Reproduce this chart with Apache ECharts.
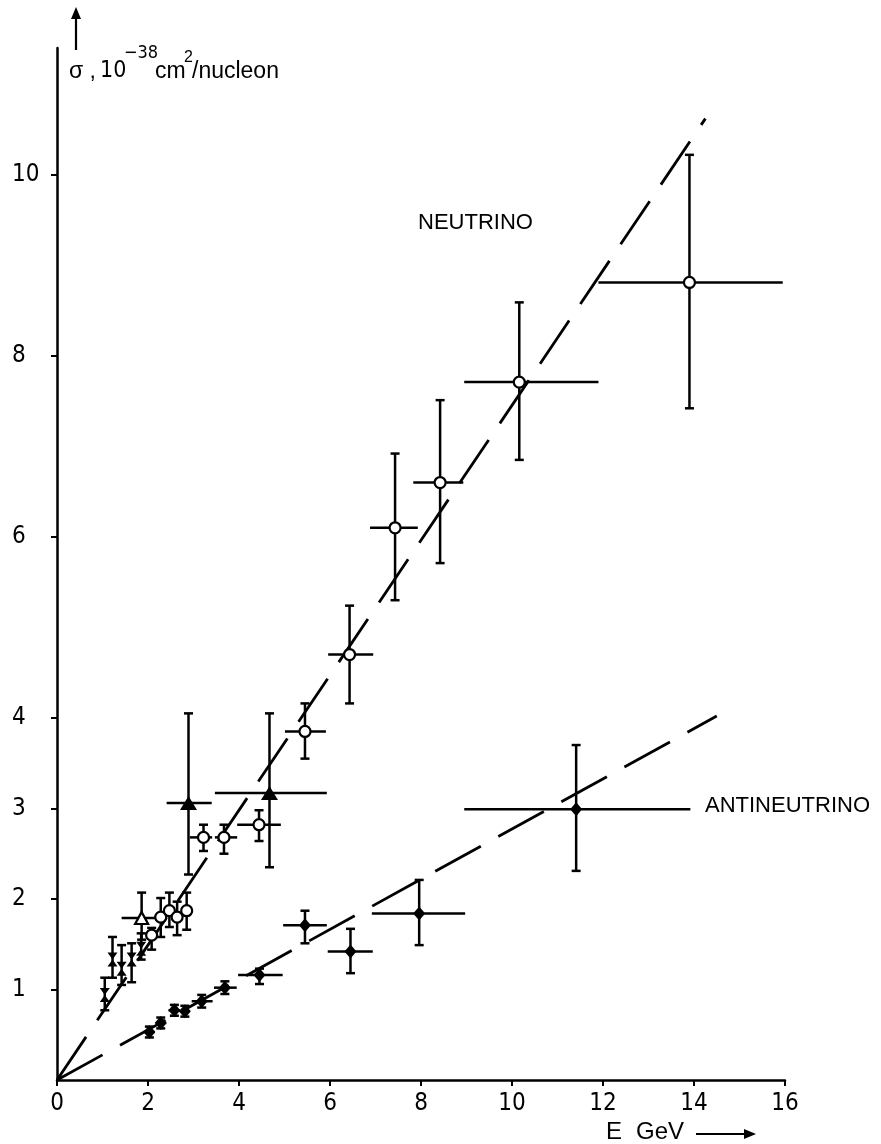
<!DOCTYPE html>
<html>
<head>
<meta charset="utf-8">
<script src="https://cdn.jsdelivr.net/npm/echarts@6/dist/echarts.min.js"></script>
<style>
  html, body { margin: 0; padding: 0; background: #fff; }
  #chart { width: 881px; height: 1144px; }
</style>
</head>
<body>
<div id="chart"></div>
<script>
// Total cross-section per nucleon vs. beam energy, neutrino and antineutrino.
// E in GeV, sigma in 1e-38 cm^2/nucleon.

const xTicks = [0, 2, 4, 6, 8, 10, 12, 14, 16];
const yTicks = [1, 2, 3, 4, 6, 8, 10];

// Neutrino, open circles
const nuE      = [2.08, 2.28, 2.47, 2.64, 2.85, 3.22, 3.67, 4.44, 5.45, 6.43, 7.43, 8.42, 10.16, 13.9];
const nuSigma  = [1.60, 1.80, 1.87, 1.80, 1.87, 2.68, 2.68, 2.82, 3.85, 4.70, 6.10, 6.60, 7.71, 8.81];
const nuEmin   = [null, null, null, null, null, 2.92, 3.47, 3.96, 5.01, 5.96, 6.88, 7.83, 8.95, 11.9];
const nuEmax   = [null, null, null, null, null, 3.41, 3.96, 4.92, 5.91, 6.95, 7.93, 8.93, 11.9, 15.95];
const nuSigMin = [1.44, 1.58, 1.69, 1.60, 1.66, 2.53, 2.50, 2.64, 3.55, 4.16, 5.30, 5.71, 6.85, 7.42];
const nuSigMax = [1.68, 2.01, 2.07, 1.97, 2.07, 2.82, 2.82, 2.98, 4.16, 5.24, 6.92, 7.51, 8.59, 10.22];

// Neutrino, filled triangles
const triE      = [2.89, 4.67];
const triSigma  = [3.06, 3.17];
const triEmin   = [2.41, 3.47];
const triEmax   = [3.40, 5.93];
const triSigMin = [2.27, 2.35];
const triSigMax = [4.05, 4.05];

// Neutrino, open triangle
const otriE      = [1.86];
const otriSigma  = [1.79];
const otriEmin   = [1.42];
const otriEmax   = [2.30];
const otriSigMin = [1.55];
const otriSigMax = [2.07];

// Neutrino, low-energy crosses
const crE      = [1.05, 1.22, 1.42, 1.64, 1.85];
const crSigma  = [0.94, 1.33, 1.23, 1.33, 1.45];
const crSigMin = [0.77, 1.13, 1.05, 1.08, 1.33];
const crSigMax = [1.13, 1.58, 1.49, 1.51, 1.62];

// Antineutrino, filled points
const anuE      = [2.03, 2.28, 2.58, 2.81, 3.18, 3.69, 4.45, 5.45, 6.45, 7.96, 11.41];
const anuSigma  = [0.53, 0.63, 0.77, 0.76, 0.87, 1.02, 1.16, 1.71, 1.42, 1.84, 2.99];
const anuEmin   = [1.90, 2.17, 2.45, 2.70, 2.96, 3.45, 3.98, 4.97, 5.95, 6.92, 8.95];
const anuEmax   = [2.15, 2.40, 2.70, 2.92, 3.42, 3.95, 4.96, 5.93, 6.94, 8.97, 13.92];
const anuSigMin = [0.47, 0.57, 0.71, 0.70, 0.80, 0.95, 1.06, 1.51, 1.18, 1.49, 2.31];
const anuSigMax = [0.59, 0.69, 0.83, 0.82, 0.94, 1.09, 1.23, 1.87, 1.67, 2.21, 3.70];

// Straight-line fits through the origin
const nuFit  = [[0, 0], [14.25, 10.62]];
const anuFit = [[0, 0], [14.5, 4.02]];

const NARROW = '"Liberation Sans Narrow","DejaVu Sans Condensed","Liberation Sans",sans-serif';
const SANS = '"Liberation Sans","Arimo","DejaVu Sans",sans-serif';
const INK = '#000';

function pairs(xs, ys) { return xs.map((x, i) => [x, ys[i]]); }

// Error bars: horizontal bin width (no caps) and vertical error with caps.
function errorBars(name, E, S, Emin, Emax, Smin, Smax) {
  return {
    name: name + ' errors',
    type: 'custom',
    silent: true,
    clip: false,
    z: 2,
    data: pairs(E, S),
    encode: { x: 0, y: 1 },
    renderItem(params, api) {
      const i = params.dataIndex;
      const s = S[i];
      const e = E[i];
      const style = { stroke: INK, lineWidth: 2.5, fill: null };
      const kids = [];
      if (Emin && Emin[i] != null) {
        const a = api.coord([Emin[i], s]);
        const b = api.coord([Emax[i], s]);
        kids.push({ type: 'line', shape: { x1: a[0], y1: a[1], x2: b[0], y2: b[1] }, style });
      }
      if (Smin && Smin[i] != null) {
        const lo = api.coord([e, Smin[i]]);
        const hi = api.coord([e, Smax[i]]);
        kids.push({ type: 'line', shape: { x1: lo[0], y1: lo[1], x2: hi[0], y2: hi[1] }, style });
        const cap = 4.5;
        kids.push({ type: 'line', shape: { x1: lo[0] - cap, y1: lo[1], x2: lo[0] + cap, y2: lo[1] }, style });
        kids.push({ type: 'line', shape: { x1: hi[0] - cap, y1: hi[1], x2: hi[0] + cap, y2: hi[1] }, style });
      }
      return { type: 'group', children: kids };
    }
  };
}

function points(name, E, S, symbol, size, fill) {
  return {
    name,
    type: 'scatter',
    z: 4,
    clip: false,
    silent: true,
    symbol,
    symbolSize: size,
    data: pairs(E, S),
    itemStyle: { color: fill, borderColor: INK, borderWidth: fill === '#fff' ? 2.2 : 0, opacity: 1 }
  };
}

function fitLine(name, data) {
  return {
    name,
    type: 'line',
    z: 1,
    silent: true,
    clip: false,
    symbol: 'none',
    data,
    lineStyle: { color: INK, width: 2.8, type: [52, 20], cap: 'butt' }
  };
}

const hourglass = 'path://M0,0 L10,0 L5,7 Z M5,7 L10,14 L0,14 Z';

function label(text, left, top, size, family) {
  return { type: 'text', left, top, z: 10, silent: true,
           style: { text, fill: INK, fontFamily: family || SANS, fontSize: size } };
}

const chart = echarts.init(document.getElementById('chart'), null, { renderer: 'canvas' });

chart.setOption({
  animation: false,
  backgroundColor: '#fff',
  grid: { left: 57, right: 96, top: 48, bottom: 64, containLabel: false },
  xAxis: {
    type: 'value',
    min: 0, max: 16, interval: 2,
    axisLine: { show: true, onZero: false, lineStyle: { color: INK, width: 2.5 } },
    axisTick: { show: true, inside: false, length: 6, lineStyle: { color: INK, width: 2 }, customValues: xTicks },
    axisLabel: { show: true, margin: 12, color: INK, fontFamily: NARROW, fontSize: 24, customValues: xTicks },
    splitLine: { show: false }
  },
  yAxis: {
    type: 'value',
    min: 0, max: 11.4,
    axisLine: { show: true, onZero: false, lineStyle: { color: INK, width: 2.5 } },
    axisTick: { show: true, inside: false, length: 6, lineStyle: { color: INK, width: 2 }, customValues: yTicks },
    axisLabel: { show: true, margin: 45, align: 'left', color: INK, fontFamily: NARROW, fontSize: 24, customValues: yTicks },
    splitLine: { show: false }
  },
  series: [
    fitLine('neutrino fit', nuFit),
    fitLine('antineutrino fit', anuFit),
    errorBars('neutrino', nuE, nuSigma, nuEmin, nuEmax, nuSigMin, nuSigMax),
    errorBars('triangles', triE, triSigma, triEmin, triEmax, triSigMin, triSigMax),
    errorBars('open triangle', otriE, otriSigma, otriEmin, otriEmax, otriSigMin, otriSigMax),
    errorBars('crosses', crE, crSigma, null, null, crSigMin, crSigMax),
    errorBars('antineutrino', anuE, anuSigma, anuEmin, anuEmax, anuSigMin, anuSigMax),
    points('neutrino', nuE, nuSigma, 'circle', 11, '#fff'),
    points('triangles', triE, triSigma, 'triangle', [17, 14], INK),
    points('open triangle', otriE, otriSigma, 'triangle', [13, 12], '#fff'),
    points('crosses', crE, crSigma, hourglass, [10, 14], INK),
    points('antineutrino', anuE, anuSigma, 'diamond', [12, 14], INK)
  ],
  graphic: [
    // axis title: sigma, 10^-38 cm^2/nucleon
    label('σ ,', 69, 60, 23),
    label('10', 100, 60, 23, NARROW),
    label('−38', 124, 44, 18, NARROW),
    label('cm', 155, 60, 23),
    label('2', 184, 50, 16),
    label('/nucleon', 192, 60, 23),
    // upward arrow beside the axis title
    { type: 'line', z: 10, silent: true, shape: { x1: 76, y1: 50, x2: 76, y2: 14 }, style: { stroke: INK, lineWidth: 2.2 } },
    { type: 'polygon', z: 10, silent: true, shape: { points: [[76, 7], [71, 19], [81, 19]] }, style: { fill: INK } },
    // x axis title with arrow
    label('E', 606, 1120, 24),
    label('GeV', 636, 1120, 24),
    { type: 'line', z: 10, silent: true, shape: { x1: 696, y1: 1134, x2: 748, y2: 1134 }, style: { stroke: INK, lineWidth: 2 } },
    { type: 'polygon', z: 10, silent: true, shape: { points: [[756, 1134], [744, 1129], [744, 1139]] }, style: { fill: INK } },
    // series names
    label('NEUTRINO', 418, 212, 22),
    label('ANTINEUTRINO', 705, 795, 22)
  ]
});
</script>
</body>
</html>
